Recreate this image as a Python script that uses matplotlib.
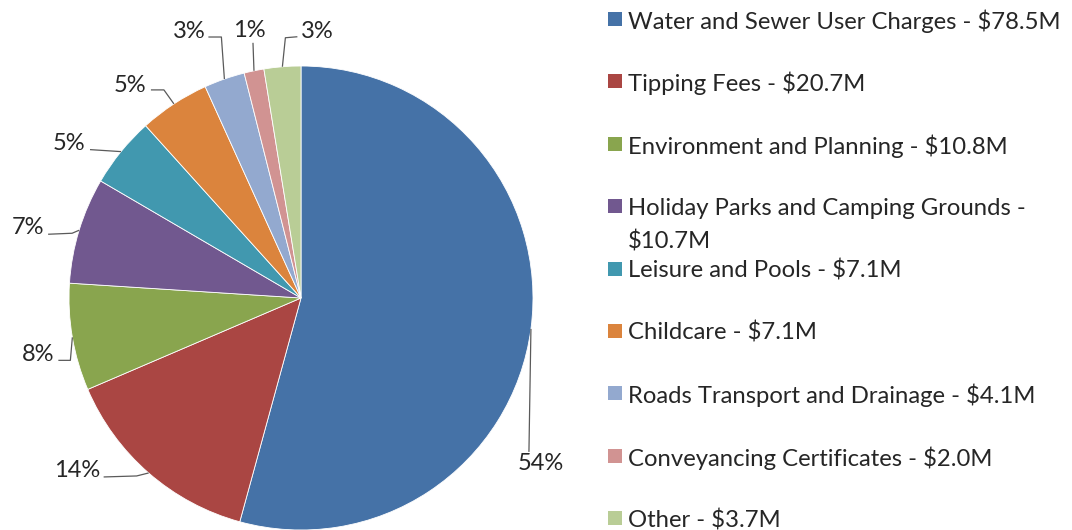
import matplotlib
matplotlib.use("Agg")
from matplotlib import pyplot as plt
from matplotlib.patches import Rectangle
import numpy as np

plt.rcParams['font.family'] = ['Lato', 'DejaVu Sans']

# data ($M)
categories = ["Water and Sewer User Charges - $78.5M",
              "Tipping Fees - $20.7M",
              "Environment and Planning - $10.8M",
              "Holiday Parks and Camping Grounds -\n$10.7M",
              "Leisure and Pools - $7.1M",
              "Childcare - $7.1M",
              "Roads Transport and Drainage - $4.1M",
              "Conveyancing Certificates - $2.0M",
              "Other - $3.7M"]
values = [78.5, 20.7, 10.8, 10.7, 7.1, 7.1, 4.1, 2.0, 3.7]
pct_labels = ["54%", "14%", "8%", "7%", "5%", "5%", "3%", "1%", "3%"]
slice_colors = ["#4572A7", "#AA4643", "#89A54E", "#71588F", "#4198AF",
                "#DB843D", "#93A9CF", "#D19392", "#B9CD96"]

W, H = 1072, 530
fig = plt.figure(figsize=(W / 100, H / 100), dpi=100)
ax = fig.add_axes([0, 0, 1, 1])

cx, cy, r = 301, H - 298, 232
wedges, _ = ax.pie(values, colors=slice_colors, startangle=90, counterclock=False,
                   center=(cx, cy), radius=r,
                   wedgeprops=dict(edgecolor='white', linewidth=0.6))
ax.set_xlim(0, W)
ax.set_ylim(0, H)
ax.set_aspect('equal')
ax.axis('off')

# leader lines: points relative to anchor (px, y down), then text pos + alignment
leaders = [
    ([(0, 0), (-2, 123)], (10, 124), 'center', 'top'),
    ([(0, 0), (-12, 3), (-45, 4)], (-48, 4), 'right', 'baseline'),
    ([(0, 0), (-2, 23), (-14, 23)], (-18, 24), 'right', 'baseline'),
    ([(0, 0), (-7, 3), (-31, 4)], (-35, 4), 'right', 'baseline'),
    ([(0, 0), (-31, -2)], (-36, -2), 'right', 'baseline'),
    ([(0, 0), (-10, -14), (-23, -14)], (-28, -12), 'right', 'baseline'),
    ([(0, 0), (-3, -42), (-16, -42)], (-19, -41), 'right', 'baseline'),
    ([(0, 0), (-1, -28)], (-5, -34), 'center', 'baseline'),
    ([(0, 0), (3, -29), (15, -30)], (19, -29), 'left', 'baseline'),
]

for w, lab, (pts, tpos, ha, va) in zip(wedges, pct_labels, leaders):
    mid = np.deg2rad((w.theta1 + w.theta2) / 2)
    ax0 = cx + r * np.cos(mid)
    ay0 = cy + r * np.sin(mid)
    xs = [ax0 + p[0] for p in pts]
    ys = [ay0 - p[1] for p in pts]
    ax.plot(xs, ys, color='#5a5a5a', lw=0.9, solid_capstyle='butt')
    ax.text(ax0 + tpos[0], ay0 - tpos[1], lab, ha=ha, va=va,
            fontsize=17, color='#262626')

# legend drawn by hand, evenly spaced like the original
leg_y0, leg_dy, line_dy = 19, 62.4, 33
for i, (lab, c) in enumerate(zip(categories, slice_colors)):
    y = H - (leg_y0 + i * leg_dy)
    ax.add_patch(Rectangle((608, y - 7), 14, 14, facecolor=c, edgecolor='none'))
    for k, part in enumerate(lab.split('\n')):
        ax.text(628, y - k * line_dy, part, ha='left', va='center_baseline',
                fontsize=17.2, color='#262626')

fig.savefig("out.png", dpi=100)
